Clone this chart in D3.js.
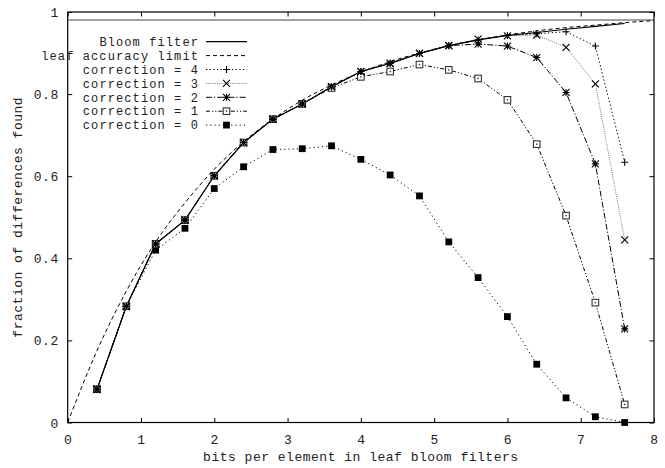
<!DOCTYPE html>
<html><head><meta charset="utf-8">
<script src="https://cdn.jsdelivr.net/npm/d3@7/dist/d3.min.js"></script>
<style>body{margin:0;background:#fff}svg{display:block}text{font-family:"Liberation Mono","DejaVu Sans Mono",monospace;font-size:13px;letter-spacing:0.5px;fill:#222}</style>
</head><body><svg id="c" width="665" height="468"></svg>
<script>
const xs = [0.4,0.8,1.2,1.6,2.0,2.4,2.8,3.2,3.6,4.0,4.4,4.8,5.2,5.6,6.0,6.4,6.8,7.2,7.6];
const bloom = [0.081,0.283,0.435,0.493,0.601,0.682,0.739,0.776,0.818,0.855,0.875,0.899,0.918,0.932,0.943,0.950,0.958,0.965,0.972];
const corr4 = [0.081,0.283,0.435,0.493,0.601,0.682,0.739,0.776,0.818,0.855,0.875,0.899,0.918,0.932,0.943,0.947,0.952,0.917,0.634];
const corr3 = [0.081,0.283,0.435,0.493,0.601,0.682,0.739,0.776,0.818,0.855,0.875,0.899,0.918,0.934,0.942,0.944,0.914,0.825,0.445];
const corr2 = [0.081,0.283,0.435,0.493,0.601,0.682,0.739,0.776,0.818,0.855,0.875,0.899,0.918,0.922,0.917,0.889,0.804,0.630,0.228];
const corr1 = [0.081,0.283,0.435,0.493,0.601,0.682,0.739,0.776,0.815,0.842,0.855,0.872,0.859,0.838,0.786,0.678,0.504,0.292,0.044];
const corr0 = [0.081,0.283,0.420,0.473,0.570,0.623,0.665,0.667,0.674,0.641,0.603,0.552,0.440,0.353,0.258,0.142,0.060,0.014,0.000];
const leafX = [0,0.4,0.8,1.2,1.6,2.0,2.4,2.8,3.2,3.6,4.0,4.4,4.8,5.2,5.6,6.0,6.4,6.8,7.2,7.6,8.0];
const leafY = [0,0.175,0.32,0.44,0.535,0.617,0.684,0.739,0.785,0.822,0.853,0.879,0.90,0.918,0.932,0.944,0.954,0.962,0.968,0.974,0.979];
const ceilingValue = 0.9805;
const xTicks = [0,1,2,3,4,5,6,7,8];
const yTicks = [0,0.2,0.4,0.6,0.8,1];
const yTickLabels = ["0","0.2","0.4","0.6","0.8","1"];
const legendLabels = ["Bloom filter","leaf accuracy limit","correction = 4","correction = 3","correction = 2","correction = 1","correction = 0"];

const svg = d3.select("#c");
const L=67.7, R=654, T=12, B=422.5;
const x = d3.scaleLinear().domain([0,8]).range([L,R]);
const y = d3.scaleLinear().domain([0,1]).range([B,T]);

svg.append("rect").attr("x",L).attr("y",T).attr("width",R-L).attr("height",B-T)
  .attr("fill","none").attr("stroke","#000").attr("stroke-width",1.2);

const tk=4.5;
const xb = svg.append("g").attr("transform",`translate(0,${B})`)
  .call(d3.axisBottom(x).tickValues(xTicks).tickSize(-tk).tickPadding(10).tickFormat(d3.format("d")));
const xt = svg.append("g").attr("transform",`translate(0,${T})`)
  .call(d3.axisTop(x).tickValues(xTicks).tickSize(-tk).tickFormat(""));
const yl = svg.append("g").attr("transform",`translate(${L},0)`)
  .call(d3.axisLeft(y).tickValues(yTicks).tickSize(-tk).tickPadding(9).tickFormat((d,i)=>yTickLabels[i]));
const yr = svg.append("g").attr("transform",`translate(${R},0)`)
  .call(d3.axisRight(y).tickValues(yTicks).tickSize(-tk).tickFormat(""));
[xb,xt,yl,yr].forEach(g=>{g.select(".domain").remove();g.selectAll("line").attr("stroke","#000");
  g.selectAll("text").attr("fill","#222").style("font-size","13px").style("letter-spacing","0.5px")
   .style("font-family",'"Liberation Mono",monospace');});
xb.selectAll("text").attr("dy","0.85em");
yl.selectAll("text").attr("dy","0.35em");

svg.append("text").attr("x",(L+R)/2).attr("y",461).attr("text-anchor","middle")
  .text("bits per element in leaf bloom filters");
svg.append("text").attr("transform",`translate(22,${(T+B)/2}) rotate(-90)`).attr("text-anchor","middle")
  .text("fraction of differences found");

svg.append("defs").append("clipPath").attr("id","pc").append("rect")
  .attr("x",L).attr("y",T).attr("width",R-L).attr("height",B-T);
const plot = svg.append("g").attr("clip-path","url(#pc)");

plot.append("line").attr("x1",x(0)).attr("x2",x(8)).attr("y1",y(ceilingValue)).attr("y2",y(ceilingValue))
  .attr("stroke","#444").attr("stroke-width",1);

const line = d3.line().x(d=>x(d[0])).y(d=>y(d[1]));
const lineSmooth = d3.line().x(d=>x(d[0])).y(d=>y(d[1])).curve(d3.curveMonotoneX);

const series = [
  {vals:bloom, dash:null, color:"#000", w:1.2, m:null},
  {vals:null, dash:"4,3", color:"#000", w:1, m:null},
  {vals:corr4, dash:"1.3,2.4", color:"#000", w:1, m:"plus"},
  {vals:corr3, dash:"1,1.2", color:"#777", w:1, m:"cross"},
  {vals:corr2, dash:"6,2,1.2,2", color:"#000", w:1, m:"star"},
  {vals:corr1, dash:"4,2,1.2,2,1.2,2", color:"#000", w:1, m:"osq"},
  {vals:corr0, dash:"1.2,3", color:"#000", w:1, m:"fsq"},
];

function marker(g, type, cx, cy){
  const s=3.5;
  if(type==="plus"||type==="star"){
    g.append("path").attr("d",`M${cx-s},${cy}H${cx+s}M${cx},${cy-s}V${cy+s}`).attr("stroke","#000").attr("stroke-width",1.1);
  }
  if(type==="cross"||type==="star"){
    g.append("path").attr("d",`M${cx-s},${cy-s}L${cx+s},${cy+s}M${cx-s},${cy+s}L${cx+s},${cy-s}`).attr("stroke","#000").attr("stroke-width",1.1);
  }
  if(type==="star"){
    g.append("circle").attr("cx",cx).attr("cy",cy).attr("r",1.8).attr("fill","#000");
  }
  if(type==="osq"){
    g.append("rect").attr("x",cx-3.3).attr("y",cy-3.3).attr("width",6.6).attr("height",6.6)
      .attr("fill","#fff").attr("stroke","#333").attr("stroke-width",1.1);
    g.append("rect").attr("x",cx-0.7).attr("y",cy-0.7).attr("width",1.4).attr("height",1.4).attr("fill","#333");
  }
  if(type==="fsq"){
    g.append("rect").attr("x",cx-3.4).attr("y",cy-3.4).attr("width",6.8).attr("height",6.8).attr("fill","#000");
  }
}

const order=[6,5,4,3,2,0,1];
order.forEach(i=>{
  const s=series[i];
  let pts, gen;
  if(s.vals===null){ pts=leafX.map((v,j)=>[v,leafY[j]]); gen=lineSmooth; }
  else { pts=xs.map((v,j)=>[v,s.vals[j]]); gen=line; }
  plot.append("path").attr("d",gen(pts)).attr("fill","none").attr("stroke",s.color)
    .attr("stroke-width",s.w).attr("stroke-dasharray",s.dash);
});
order.forEach(i=>{
  const s=series[i];
  if(!s.m) return;
  const g=svg.append("g");
  xs.forEach((v,j)=>marker(g,s.m,x(v),y(s.vals[j])));
});

const lg = svg.append("g");
legendLabels.forEach((lab,i)=>{
  const s=series[i];
  const cy=41.7+i*13.9;
  lg.append("text").attr("x",199).attr("y",cy).attr("dy","0.35em").attr("text-anchor","end")
    .style("font-size","12px").style("letter-spacing","1.1px").text(lab);
  lg.append("line").attr("x1",206).attr("x2",247).attr("y1",cy).attr("y2",cy)
    .attr("stroke",s.color).attr("stroke-width",s.w).attr("stroke-dasharray",s.dash);
  if(s.m) marker(lg,s.m,226.5,cy);
});
</script></body></html>
